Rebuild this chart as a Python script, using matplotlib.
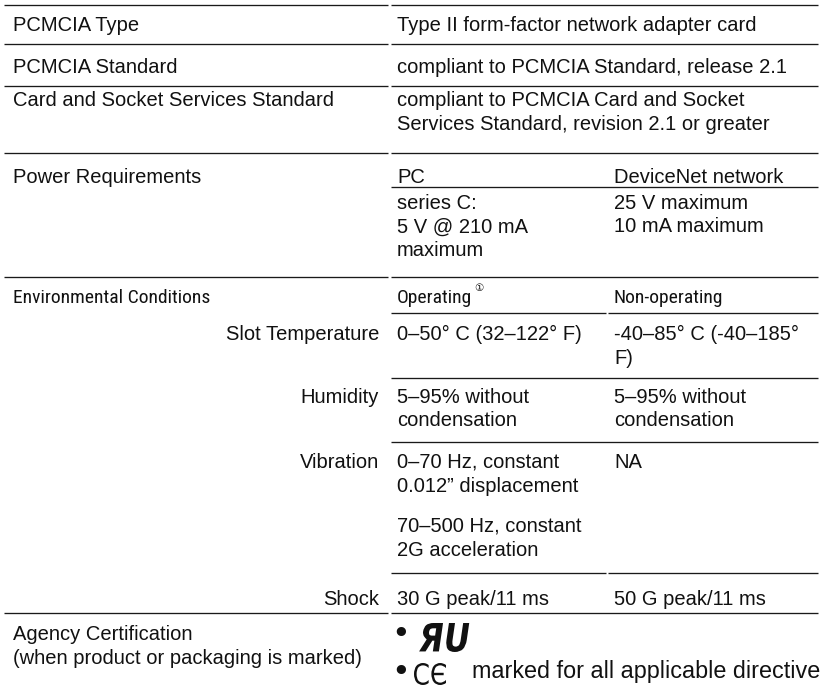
import matplotlib
matplotlib.use("Agg")
import matplotlib.pyplot as plt
from matplotlib.textpath import TextPath
from matplotlib.patches import PathPatch
from matplotlib.font_manager import FontProperties
from matplotlib.transforms import Affine2D

# ---------------- table content ----------------
row_labels = ["PCMCIA Type", "PCMCIA Standard", "Card and Socket Services Standard",
              "Power Requirements", "Environmental Conditions",
              "Agency Certification\n(when product or packaging is marked)"]
wide_values = ["Type II form-factor network adapter card",
               "compliant to PCMCIA Standard, release 2.1",
               "compliant to PCMCIA Card and Socket\nServices Standard, revision 2.1 or greater"]
power_headers = ["PC", "DeviceNet network"]
power_values = ["series C:\n5 V @ 210 mA\nmaximum", "25 V maximum\n10 mA maximum"]
env_headers = ["Operating", "Non-operating"]
env_sublabels = ["Slot Temperature", "Humidity", "Vibration", "", "Shock"]
env_operating = ["0\u201350\u00b0 C (32\u2013122\u00b0 F)", "5\u201395% without\ncondensation",
                 "0\u201370 Hz, constant\n0.012\u201d displacement", "70\u2013500 Hz, constant\n2G acceleration",
                 "30 G peak/11 ms"]
env_nonoperating = ["-40\u201385\u00b0 C (-40\u2013185\u00b0\nF)", "5\u201395% without\ncondensation",
                    "NA", "", "50 G peak/11 ms"]
footnote_mark = "\u2460"
ul_mark = "\u042fU"
ce_mark = "C\u0404"
cert_text = "marked for all applicable directive"

# ---------------- layout (pixels) ----------------
W, H = 829, 693
X_LEFT_LINE = (4, 388)
X_RIGHT_LINE = (391, 818)
X_SPLIT = (391, 606, 608, 818)
X_LABEL = 13
X_SUBLABEL_RIGHT = 379
X_COL1 = 397
X_COL2 = 614
LS = 23.5  # line spacing in px

FONT = "Liberation Sans"
FONT_TIGHT = "Roboto Condensed"
FS = 14.5
FS_TIGHT = 14.0
TXT = "#111111"
LINE_COLOR = "#1a1a1a"

fig = plt.figure(figsize=(W / 100, H / 100), dpi=100)
ax = fig.add_axes([0, 0, 1, 1])
ax.set_xlim(0, W)
ax.set_ylim(H, 0)
ax.axis("off")


def hline(y, x0, x1):
    ax.plot([x0, x1], [y, y], color=LINE_COLOR, lw=0.95, solid_capstyle="butt")


def put(x, y, s, ha="left", family=FONT, size=FS, **kw):
    for i, ln in enumerate(s.split("\n")):
        ax.text(x, y + i * LS, ln, ha=ha, va="baseline", family=family, fontsize=size,
                color=TXT, **kw)


def glyph_box(s, x0, y0, x1, y1, prop, skew=0.0):
    """Draw text s as a filled path fitted into pixel box (x0, y0)-(x1, y1)."""
    tp = TextPath((0, 0), s, size=100, prop=prop)
    ext = tp.get_extents()
    sx = (x1 - x0) / ext.width
    sy = (y1 - y0) / ext.height
    tr = (Affine2D().translate(-ext.x0, -ext.y0).skew_deg(skew, 0)
          .scale(sx, -sy).translate(x0, y1))
    ax.add_patch(PathPatch(tr.transform_path(tp), facecolor=TXT, edgecolor="none",
                           transform=ax.transData))


# horizontal rules
for y in [5, 43.5, 86, 153, 277, 613]:
    hline(y, *X_LEFT_LINE)
    hline(y, *X_RIGHT_LINE)
for y in [187, 378, 442]:
    hline(y, *X_RIGHT_LINE)
for y in [313, 573]:
    hline(y, X_SPLIT[0], X_SPLIT[1])
    hline(y, X_SPLIT[2], X_SPLIT[3])

# first rows
for lab, val, yb in zip(row_labels[:3], wide_values, [31, 73, 106]):
    put(X_LABEL, yb, lab)
    put(X_COL1, yb, val)

# power requirements
put(X_LABEL, 183, row_labels[3])
put(X_COL1, 183, power_headers[0])
put(X_COL2, 183, power_headers[1])
put(X_COL1, 209, power_values[0])
put(X_COL2, 209, power_values[1])

# environmental
put(X_LABEL, 303, row_labels[4], family=FONT_TIGHT, size=FS_TIGHT)
put(X_COL1, 303, env_headers[0], family=FONT_TIGHT, size=FS_TIGHT)
ax.text(474, 291, footnote_mark, ha="left", va="baseline", family="DejaVu Sans",
        fontsize=7.5, color=TXT)
put(X_COL2, 303, env_headers[1], family=FONT_TIGHT, size=FS_TIGHT)

for lab, op, nop, yb in zip(env_sublabels, env_operating, env_nonoperating,
                            [340, 403, 468, 532, 605]):
    if lab:
        put(X_SUBLABEL_RIGHT, yb, lab, ha="right")
    if op:
        put(X_COL1, yb, op)
    if nop:
        put(X_COL2, yb, nop)

# agency certification
put(X_LABEL, 640, row_labels[5])
ax.text(401, 643, "\u2022", ha="center", va="baseline", family="DejaVu Sans", fontsize=23, color=TXT)
glyph_box(ul_mark, 419, 623, 465, 652, FontProperties(family="DejaVu Sans", weight="bold"), skew=10)
ax.text(401, 681, "\u2022", ha="center", va="baseline", family="DejaVu Sans", fontsize=23, color=TXT)
glyph_box(ce_mark, 414, 663, 446, 685, FontProperties(family="DejaVu Sans"))
ax.text(472, 678, cert_text, ha="left", va="baseline", family=FONT, fontsize=16.8, color=TXT)

fig.savefig("out.png", dpi=100, facecolor="white")
